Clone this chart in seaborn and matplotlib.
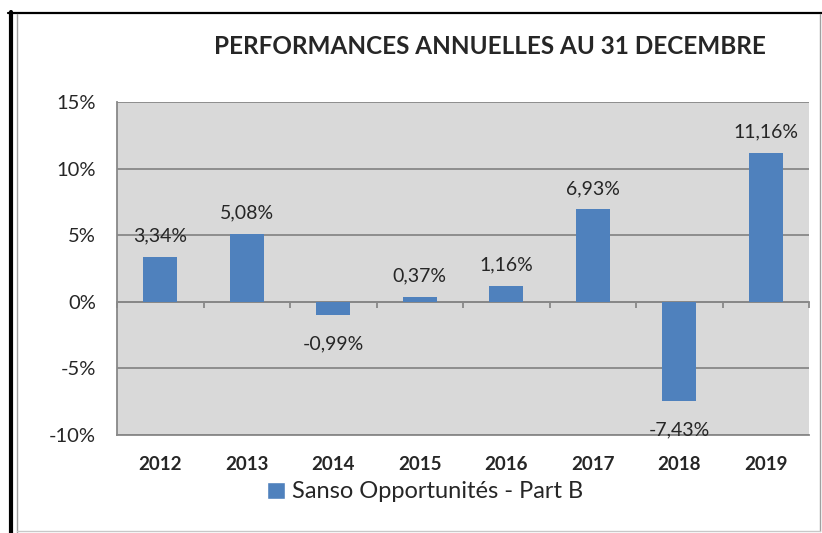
import matplotlib.pyplot as plt
import pandas as pd
import seaborn as sns
from matplotlib.lines import Line2D
from matplotlib.patches import Patch

YEARS: list[str] = ["2012", "2013", "2014", "2015", "2016", "2017", "2018", "2019"]
PERFORMANCES: list[float] = [3.34, 5.08, -0.99, 0.37, 1.16, 6.93, -7.43, 11.16]
Y_TICKS: list[int] = [-10, -5, 0, 5, 10, 15]
SERIES_NAME = "Sanso Opportunités - Part B"
TITLE = "PERFORMANCES ANNUELLES AU 31 DECEMBRE"

BAR_COLOR = "#4F81BD"
PLOT_BG = "#D9D9D9"
GRID_COLOR = "#888888"
FONT = "Lato"
OUT_PATH = "out.png"


def build_frame() -> pd.DataFrame:
    return pd.DataFrame({"Year": YEARS, "Performance": PERFORMANCES})


def format_label(value: float) -> str:
    return f"{value:.2f}%".replace(".", ",")


def draw_border(fig: plt.Figure) -> None:
    w, h = 822, 533
    # outer black frame (left and top), inner grey chart frame
    fig.add_artist(Line2D([10.5 / w, 10.5 / w], [0, 1 - 12 / h], color="black", lw=3.0))
    fig.add_artist(Line2D([8 / w, 1], [1 - 13 / h, 1 - 13 / h], color="black", lw=1.6))
    fig.add_artist(Line2D([17 / w, 17 / w], [0, 1 - 14 / h], color="#A0A0A0", lw=1.0))
    fig.add_artist(Line2D([820 / w, 820 / w], [2 / h, 1 - 14 / h], color="#A0A0A0", lw=1.0))
    fig.add_artist(Line2D([17 / w, 820 / w], [2 / h, 2 / h], color="#C8C8C8", lw=1.0))


def plot_performances(df: pd.DataFrame) -> None:
    sns.set_style("white")
    plt.rcParams["font.family"] = [FONT, "DejaVu Sans"]

    fig = plt.figure(figsize=(8.22, 5.33), dpi=100)
    ax = fig.add_axes([117 / 822, 1 - 435 / 533, (809 - 117) / 822, (435 - 102) / 533])

    sns.barplot(
        data=df, x="Year", y="Performance", color=BAR_COLOR, width=0.39,
        saturation=1, linewidth=0, ax=ax, zorder=3,
    )

    ax.set_facecolor(PLOT_BG)
    ax.set_ylim(-10, 15)
    ax.set_xlim(-0.5, len(YEARS) - 0.5)
    ax.set_yticks(Y_TICKS, labels=[f"{t}%" for t in Y_TICKS])
    ax.yaxis.grid(True, color=GRID_COLOR, lw=1.3, zorder=1)
    ax.set_axisbelow(True)

    for side in ["top", "right"]:
        ax.spines[side].set_visible(False)
    ax.spines["left"].set_color(GRID_COLOR)
    ax.spines["left"].set_linewidth(1.3)
    ax.spines["bottom"].set_color(GRID_COLOR)
    ax.spines["bottom"].set_linewidth(1.3)

    ax.tick_params(axis="y", direction="out", length=5, width=1.3, color=GRID_COLOR, pad=10, labelsize=14.5)
    ax.tick_params(axis="x", length=0, pad=15, labelsize=13.5)
    for label in ax.get_xticklabels():
        label.set_fontweight("bold")
    ax.set_xlabel("")
    ax.set_ylabel("")

    # category axis crosses at zero, with tick marks between categories
    zero_axis = ax.secondary_xaxis(10 / 25)
    zero_axis.set_xticks([i - 0.5 for i in range(len(YEARS) + 1)], labels=[])
    zero_axis.tick_params(direction="out", length=4.5, width=1.3, color=GRID_COLOR)
    zero_axis.spines["bottom"].set_color(GRID_COLOR)
    zero_axis.spines["bottom"].set_linewidth(1.3)

    bars = ax.containers[0]
    positive_labels = [format_label(v) if v >= 0 else "" for v in PERFORMANCES]
    negative_labels = [format_label(v) if v < 0 else "" for v in PERFORMANCES]
    ax.bar_label(bars, labels=positive_labels, padding=9, fontsize=14)
    ax.bar_label(bars, labels=negative_labels, padding=15, fontsize=14)

    fig.text(490 / 822, 1 - 47 / 533, TITLE, ha="center", va="center", fontsize=17.5, fontweight="bold")
    fig.legend(
        handles=[Patch(facecolor=BAR_COLOR, label=SERIES_NAME)],
        loc="center",
        bbox_to_anchor=(425 / 822, 1 - 492 / 533),
        frameon=False,
        fontsize=17,
        handlelength=0.75,
        handleheight=0.75,
        handletextpad=0.3,
    )

    draw_border(fig)
    fig.savefig(OUT_PATH, dpi=100)


def main() -> None:
    df = build_frame()
    plot_performances(df)


if __name__ == "__main__":
    main()
